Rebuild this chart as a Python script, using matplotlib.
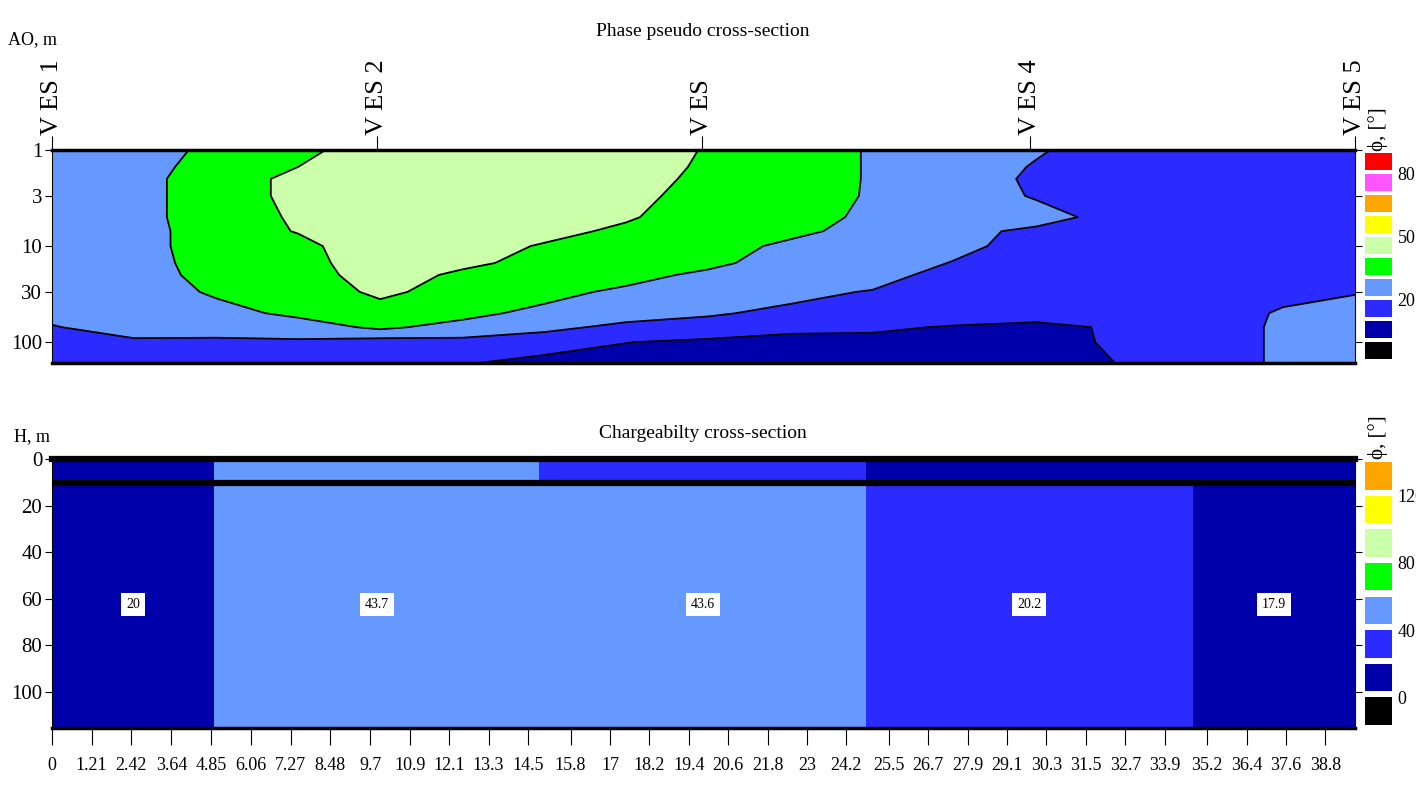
import numpy as np
import matplotlib
matplotlib.use("Agg")
from matplotlib import pyplot as plt
from matplotlib.colors import ListedColormap, BoundaryNorm

plt.rcParams['font.family'] = ['Liberation Serif', 'DejaVu Sans']

# ---- phase pseudo cross-section ----
dist = [0, 2.5, 5, 7.5, 10, 12.5, 15, 17.5, 20, 22.5, 25, 27.5, 30, 32.5, 35, 37.5, 39.7]
ao = [1, 1.5, 2, 3, 5, 7, 10, 15, 20, 30, 50, 70, 100, 165]
phase = [
    [25, 26, 32, 37, 46, 47, 47, 47, 39, 36, 29, 27, 21, 15, 15, 15, 15],
    [25, 26, 34, 40, 47, 47, 47, 46, 38, 36, 29, 27, 19, 15, 15, 15, 15],
    [25, 26, 36, 42, 47, 47, 47, 45, 37, 36, 29, 26, 18, 15, 15, 15, 15],
    [25, 26, 36, 42, 48, 47, 46, 43, 36, 35, 29, 26, 19, 15, 15, 15, 15],
    [25, 26, 36, 41, 48, 47, 45, 41, 35, 34, 28, 25, 25, 15, 15, 15, 15],
    [25, 26, 35, 40.5, 48, 46, 43, 38, 35, 32, 27, 24, 17, 15, 15, 15, 15],
    [25, 26, 35, 37, 47, 45, 39, 36, 34, 28, 26, 22, 17, 15, 15, 15, 15],
    [25, 26, 34, 36, 46, 42, 37, 34, 32, 26, 25, 19.5, 16, 15, 15, 16, 16],
    [25, 26, 33, 35, 45, 38, 35, 33, 28, 24, 23, 17, 15, 15, 15, 17, 17],
    [25, 26, 31, 34, 42, 36, 33, 28, 25, 22, 19.5, 15, 14, 14, 15, 18, 19.5],
    [24, 26, 27, 32, 35, 33, 27, 23, 21, 18, 16, 13, 13, 13, 15, 21, 24],
    [19, 27, 26, 25, 32, 26, 22, 18, 16, 12, 11, 9.5, 8, 11, 15, 21.5, 25],
    [15, 17, 17, 18.5, 15, 17, 15, 10.2, 8, 7, 8, 6, 5, 12, 15, 21.5, 25],
    [15, 15, 15, 15, 14, 11, 6, 5, 5, 5, 5, 5, 6, 10.2, 15, 21.5, 25],
]
phase_levels = [-10, 0, 10, 20, 30, 40, 50, 60, 70, 80, 90]
phase_colors = ['#000000', '#0000AA', '#2B2BFF', '#6699FF', '#00FF00',
                '#CCFFAA', '#FFFF00', '#FFA500', '#FF55FF', '#FF0000']
phase_cb_labels = [20, 50, 80]
ao_ticks = [1, 3, 10, 30, 100]

ves_x = [0, 9.9, 19.8, 29.8, 39.7]
ves_names = ['V ES 1', 'V ES 2', 'V ES', 'V ES 4', 'V ES 5']

# ---- chargeability cross-section ----
depth_edges = [0, 10.3, 115.5]
layer1 = [15, 45, 30, 15, 15]
layer2 = [20, 43.7, 43.6, 20.2, 17.9]
charge_bounds = [0, 20, 40, 60, 80, 100, 120]
charge_colors = ['#000000', '#0000AA', '#2B2BFF', '#6699FF', '#00FF00',
                 '#CCFFAA', '#FFFF00', '#FFA500']
charge_cb_labels = [0, 40, 80, 120]
h_ticks = [0, 20, 40, 60, 80, 100]
x_ticks = [0, 1.21, 2.42, 3.64, 4.85, 6.06, 7.27, 8.48, 9.7, 10.9, 12.1, 13.3,
           14.5, 15.8, 17, 18.2, 19.4, 20.6, 21.8, 23, 24.2, 25.5, 26.7, 27.9,
           29.1, 30.3, 31.5, 32.7, 33.9, 35.2, 36.4, 37.6, 38.8]

W, H = 1416, 785
fig = plt.figure(figsize=(W / 100, H / 100), dpi=100)

def box(l, t, r, b):
    return [l / W, 1 - b / H, (r - l) / W, (b - t) / H]

# top panel
ax1 = fig.add_axes(box(52, 150, 1355, 363))
ax1.contourf(dist, ao, phase, levels=phase_levels, colors=phase_colors)
ax1.contour(dist, ao, phase, levels=phase_levels[1:-1], colors='k', linewidths=1.3)
ax1.set_yscale('log')
ax1.set_ylim(165, 1)
ax1.set_xlim(0, 39.7)
ax1.set_yticks(ao_ticks)
ax1.set_yticklabels([str(v) for v in ao_ticks])
ax1.yaxis.set_minor_locator(matplotlib.ticker.NullLocator())
ax1.tick_params(axis='y', left=True, right=True, length=5, labelsize=15, pad=2)
ax1.xaxis.tick_top()
ax1.set_xticks(ves_x)
ax1.set_xticklabels(ves_names, rotation=90, fontsize=19)
ax1.tick_params(axis='x', length=10, pad=1)
for s in ['top', 'bottom']:
    ax1.spines[s].set_linewidth(2.5)

# bottom panel
x_edges = [ves_x[0]] + [(a + b) / 2 for a, b in zip(ves_x[:-1], ves_x[1:])] + [ves_x[-1]]
cells = np.digitize([layer1, layer2], charge_bounds, right=True)
ax2 = fig.add_axes(box(52, 459, 1355, 728))
cmap2 = ListedColormap(charge_colors)
ax2.pcolormesh(x_edges, depth_edges, cells, cmap=cmap2,
               norm=BoundaryNorm(np.arange(-0.5, len(charge_colors) + 0.5), len(charge_colors)))
ax2.hlines(depth_edges[1], x_edges[0], x_edges[-1], colors='k', linewidth=4.5)
centres = [(a + b) / 2 for a, b in zip(x_edges[:-1], x_edges[1:])]
for xc, v in zip(centres, layer2):
    ax2.text(xc, 62.5, f'{v:g}', ha='center', va='center', fontsize=10,
             bbox=dict(boxstyle='square,pad=0.35', fc='white', ec='none'))
ax2.set_xlim(0, 39.7)
ax2.set_ylim(depth_edges[-1], 0)
ax2.set_xticks(x_ticks)
ax2.set_xticklabels([f'{v:g}' for v in x_ticks])
ax2.set_yticks(h_ticks)
ax2.tick_params(axis='x', length=12, labelsize=13, pad=9)
ax2.tick_params(axis='y', left=True, right=True, length=5, labelsize=15, pad=2)
ax2.spines['top'].set_linewidth(4.5)
ax2.spines['bottom'].set_linewidth(2.5)

# legend boxes
def colour_boxes(axbox, colours, labels, to_pos):
    cax = fig.add_axes(box(*axbox))
    for i, c in enumerate(colours):
        cax.bar(0.5, 0.82, bottom=i + 0.09, width=1, color=c)
    cax.set_xlim(0, 1)
    cax.set_ylim(0, len(colours))
    cax.axis('off')
    for v in labels:
        cax.text(1.2, to_pos(v) - 0.15, str(v), ha='left', va='center', fontsize=13)
    cax.text(0.5, 1.0, 'ϕ, [°]', transform=cax.transAxes, rotation=90,
             ha='center', va='bottom', fontsize=15)

colour_boxes((1365, 151, 1392, 361), phase_colors, phase_cb_labels,
             lambda v: (v - phase_levels[0]) / 10)
colour_boxes((1365, 459, 1392, 728), charge_colors, charge_cb_labels,
             lambda v: v / 20 + 1)

fig.text(703 / W, 1 - 31 / H, 'Phase pseudo cross-section', ha='center', va='center', fontsize=14)
fig.text(703 / W, 1 - 433 / H, 'Chargeabilty cross-section', ha='center', va='center', fontsize=14)
fig.text(8 / W, 1 - 40 / H, 'AO, m', ha='left', va='center', fontsize=13)
fig.text(14 / W, 1 - 437 / H, 'H, m', ha='left', va='center', fontsize=13)

fig.savefig('out.png', dpi=100)
